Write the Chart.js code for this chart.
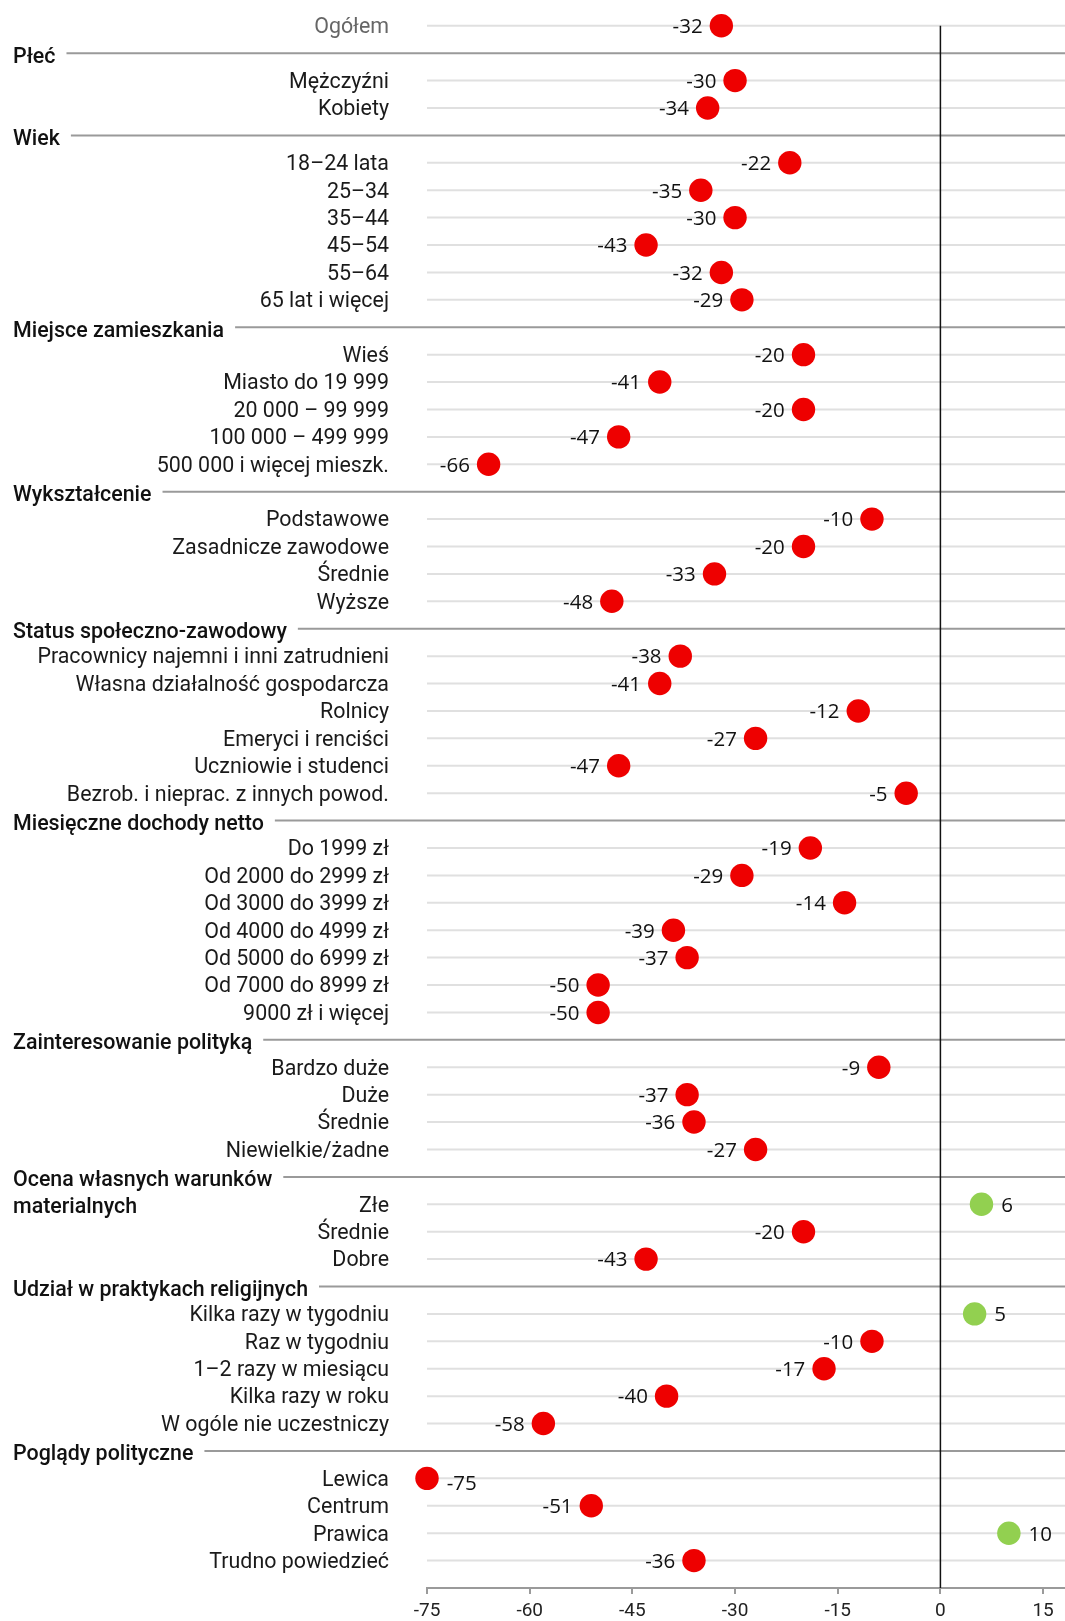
<!DOCTYPE html>
<html>
<head>
<meta charset="utf-8">
<script src="https://cdn.jsdelivr.net/npm/chart.js@4.4.1/dist/chart.umd.min.js"></script>
<style>
  html, body { margin: 0; padding: 0; background: #fff; }
  #wrap { width: 1065px; height: 1621px; position: relative; }
</style>
</head>
<body>
<div id="wrap"><canvas id="myChart"></canvas></div>
<script>
// Wiersze wykresu: nagłówki grup i kategorie
const rowLabels = [
  'Ogółem',
  'Płeć', 'Mężczyźni', 'Kobiety',
  'Wiek', '18–24 lata', '25–34', '35–44', '45–54', '55–64', '65 lat i więcej',
  'Miejsce zamieszkania', 'Wieś', 'Miasto do 19 999', '20 000 – 99 999', '100 000 – 499 999', '500 000 i więcej mieszk.',
  'Wykształcenie', 'Podstawowe', 'Zasadnicze zawodowe', 'Średnie', 'Wyższe',
  'Status społeczno-zawodowy', 'Pracownicy najemni i inni zatrudnieni', 'Własna działalność gospodarcza', 'Rolnicy',
  'Emeryci i renciści', 'Uczniowie i studenci', 'Bezrob. i nieprac. z innych powod.',
  'Miesięczne dochody netto', 'Do 1999 zł', 'Od 2000 do 2999 zł', 'Od 3000 do 3999 zł', 'Od 4000 do 4999 zł',
  'Od 5000 do 6999 zł', 'Od 7000 do 8999 zł', '9000 zł i więcej',
  'Zainteresowanie polityką', 'Bardzo duże', 'Duże', 'Średnie', 'Niewielkie/żadne',
  'Ocena własnych warunków|materialnych', 'Złe', 'Średnie', 'Dobre',
  'Udział w praktykach religijnych', 'Kilka razy w tygodniu', 'Raz w tygodniu', '1–2 razy w miesiącu',
  'Kilka razy w roku', 'W ogóle nie uczestniczy',
  'Poglądy polityczne', 'Lewica', 'Centrum', 'Prawica', 'Trudno powiedzieć'
];

// null = wiersz nagłówka grupy
const rowValues = [
  -32,
  null, -30, -34,
  null, -22, -35, -30, -43, -32, -29,
  null, -20, -41, -20, -47, -66,
  null, -10, -20, -33, -48,
  null, -38, -41, -12, -27, -47, -5,
  null, -19, -29, -14, -39, -37, -50, -50,
  null, -9, -37, -36, -27,
  null, 6, -20, -43,
  null, 5, -10, -17, -40, -58,
  null, -75, -51, 10, -36
];

const xTicks = [-75, -60, -45, -30, -15, 0, 15];

const RED = '#ee0000';
const GREEN = '#92d050';

const points = [];
const colors = [];
rowValues.forEach((v, i) => {
  if (v !== null) {
    points.push({ x: v, y: i });
    colors.push(v >= 0 ? GREEN : RED);
  }
});

// Linie siatki, etykiety wierszy, linia zera i etykiety wartości
const dotPlotPlugin = {
  id: 'dotPlot',
  beforeDatasetsDraw(chart) {
    const ctx = chart.ctx;
    const xs = chart.scales.x;
    const ys = chart.scales.y;
    const area = chart.chartArea;
    const right = chart.width;
    ctx.save();
    rowLabels.forEach((lab, i) => {
      const y = ys.getPixelForValue(i);
      if (rowValues[i] === null) {
        const parts = lab.split('|');
        ctx.font = '500 21.4px Roboto';
        ctx.fillStyle = '#111';
        ctx.textAlign = 'left';
        ctx.textBaseline = 'middle';
        ctx.fillText(parts[0], 13, y + 4);
        if (parts[1]) ctx.fillText(parts[1], 13, ys.getPixelForValue(i + 1) + 3);
        const w = ctx.measureText(parts[0]).width;
        ctx.strokeStyle = '#9a9a9a';
        ctx.lineWidth = 2;
        ctx.beginPath();
        ctx.moveTo(13 + w + 11, y);
        ctx.lineTo(right, y);
        ctx.stroke();
      } else {
        ctx.strokeStyle = '#e0e0e0';
        ctx.lineWidth = 2;
        ctx.beginPath();
        ctx.moveTo(area.left, y);
        ctx.lineTo(right, y);
        ctx.stroke();
        ctx.font = '21.4px Roboto';
        ctx.fillStyle = i === 0 ? '#666' : '#1a1a1a';
        ctx.textAlign = 'right';
        ctx.textBaseline = 'middle';
        ctx.fillText(lab, 389, y + 2);
      }
    });
    const x0 = xs.getPixelForValue(0);
    ctx.strokeStyle = '#111';
    ctx.lineWidth = 1.5;
    ctx.beginPath();
    ctx.moveTo(x0, ys.getPixelForValue(0));
    ctx.lineTo(x0, area.bottom);
    ctx.stroke();
    ctx.restore();
  },
  afterDatasetsDraw(chart) {
    const ctx = chart.ctx;
    const xs = chart.scales.x;
    const ys = chart.scales.y;
    const r = 11.7;
    ctx.save();
    ctx.font = '20.5px "Open Sans"';
    ctx.fillStyle = '#111';
    ctx.textBaseline = 'middle';
    points.forEach(p => {
      const px = xs.getPixelForValue(p.x);
      const py = ys.getPixelForValue(p.y) + 1.5;
      const txt = String(p.x);
      if (p.x >= 0 || p.x <= -75) {
        ctx.textAlign = 'left';
        ctx.fillText(txt, px + r + 8, py + (p.x < 0 ? 4 : 0));
      } else {
        ctx.textAlign = 'right';
        ctx.fillText(txt, px - r - 7, py);
      }
    });
    ctx.restore();
  }
};

const canvas = document.getElementById('myChart');
canvas.width = 1065;
canvas.height = 1621;

new Chart(canvas.getContext('2d'), {
  type: 'scatter',
  data: {
    datasets: [{
      data: points,
      pointRadius: 11.7,
      pointHoverRadius: 11.7,
      pointBackgroundColor: colors,
      pointBorderWidth: 0,
      borderWidth: 0,
      clip: false
    }]
  },
  options: {
    responsive: false,
    animation: false,
    events: [],
    layout: { autoPadding: false, padding: { left: 427, right: 0, top: 0, bottom: 0 } },
    plugins: { legend: { display: false }, tooltip: { enabled: false } },
    scales: {
      x: {
        type: 'linear',
        min: -75,
        max: 18.2,
        afterBuildTicks(scale) {
          scale.ticks = xTicks.map(v => ({ value: v }));
        },
        afterFit(scale) {
          scale.height = 33;
        },
        grid: { drawOnChartArea: false, drawTicks: true, tickLength: 6, color: '#9a9a9a', lineWidth: 2 },
        border: { display: true, color: '#9a9a9a', width: 2 },
        ticks: {
          color: '#222',
          font: { family: 'Roboto', size: 19, lineHeight: 1 },
          padding: 8,
          maxRotation: 0,
          autoSkip: false
        }
      },
      y: {
        type: 'linear',
        reverse: true,
        min: -0.94,
        max: 57.0,
        display: false
      }
    }
  },
  plugins: [dotPlotPlugin]
});
</script>
</body>
</html>
